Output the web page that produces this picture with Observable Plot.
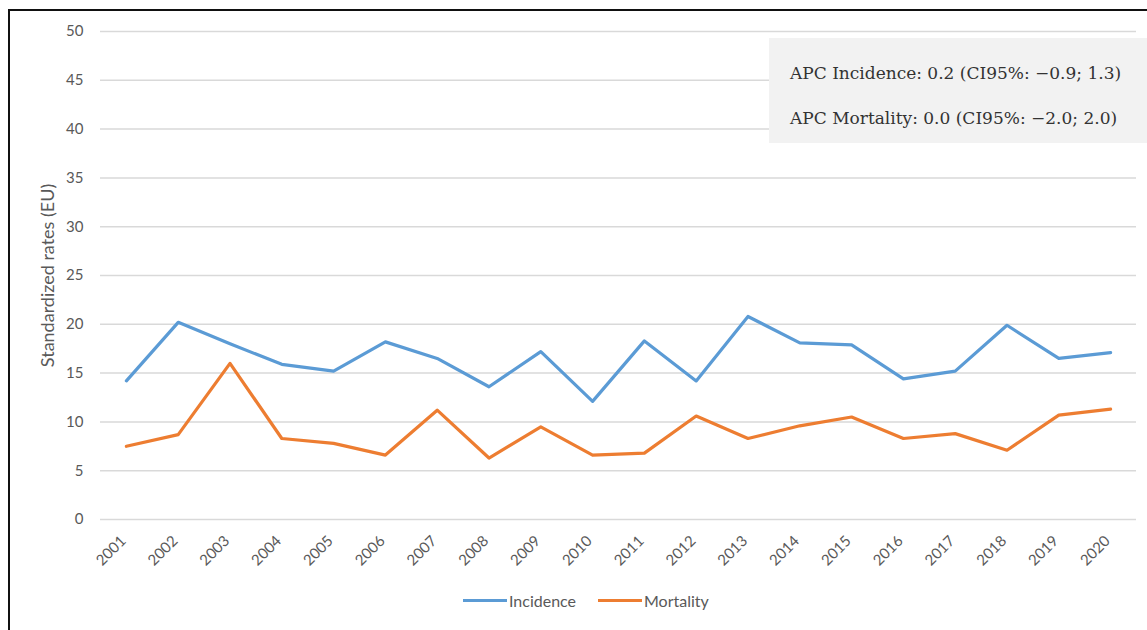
<!DOCTYPE html>
<html>
<head>
<meta charset="utf-8">
<script src="https://cdn.jsdelivr.net/npm/d3@7"></script>
<script src="https://cdn.jsdelivr.net/npm/@observablehq/plot@0.6"></script>
<style>
  html, body { margin: 0; padding: 0; background: #fff; }
  body { width: 1147px; height: 630px; position: relative; overflow: hidden; font-family: Lato, "Open Sans", sans-serif; }
  #frame { position: absolute; left: 8px; top: 9px; width: 1160px; height: 640px; border: 2px solid #111; box-sizing: border-box; pointer-events: none; }
  #chart { position: absolute; left: 0; top: 0; }
  #apc { position: absolute; left: 769px; top: 38px; width: 378px; height: 105px; background: #f2f2f2;
         font-family: "DejaVu Serif", "Liberation Serif", serif; font-size: 17px; color: #333; }
  #apc div { position: absolute; left: 21px; white-space: nowrap; }
  #legend { position: absolute; top: 591px; left: 0; width: 1147px; font-size: 16px; color: #595959; }
  .li { position: absolute; display: flex; align-items: center; }
  .sw { width: 44px; height: 3px; margin-right: 2px; }
</style>
</head>
<body>
<div id="chart"></div>
<div id="apc">
  <div style="top:25px">APC Incidence: 0.2 (CI95%: −0.9; 1.3)</div>
  <div style="top:70px">APC Mortality: 0.0 (CI95%: −2.0; 2.0)</div>
</div>
<div id="legend"></div>
<div id="frame"></div>
<script>
const years = ["2001","2002","2003","2004","2005","2006","2007","2008","2009","2010",
               "2011","2012","2013","2014","2015","2016","2017","2018","2019","2020"];
const incidence = [14.2, 20.2, 18.0, 15.9, 15.2, 18.2, 16.5, 13.6, 17.2, 12.1,
                   18.3, 14.2, 20.8, 18.1, 17.9, 14.4, 15.2, 19.9, 16.5, 17.1];
const mortality = [7.5, 8.7, 16.0, 8.3, 7.8, 6.6, 11.2, 6.3, 9.5, 6.6,
                   6.8, 10.6, 8.3, 9.6, 10.5, 8.3, 8.8, 7.1, 10.7, 11.3];
const seriesNames = ["Incidence", "Mortality"];
const seriesColors = ["#5B9BD5", "#ED7D31"];
const yTicks = [0, 5, 10, 15, 20, 25, 30, 35, 40, 45, 50];
const yLabel = "Standardized rates (EU)";

const rows = [];
years.forEach((y, i) => {
  rows.push({year: y, value: incidence[i], series: seriesNames[0]});
  rows.push({year: y, value: mortality[i], series: seriesNames[1]});
});

const plot = Plot.plot({
  width: 1147,
  height: 630,
  marginLeft: 100,
  marginRight: 11,
  marginTop: 31,
  marginBottom: 111,
  style: {fontFamily: "Lato, 'Open Sans', sans-serif", fontSize: "15px", color: "#595959", background: "transparent"},
  x: {type: "point", domain: years, padding: 0.5, round: false},
  y: {domain: [0, 50]},
  color: {domain: seriesNames, range: seriesColors},
  marks: [
    Plot.gridY(yTicks, {stroke: "#d9d9d9", strokeOpacity: 1, strokeWidth: 1.5}),
    Plot.axisY(yTicks, {tickSize: 0, tickPadding: 17, label: null, fill: "#595959", fontSize: 15}),
    Plot.axisX(years, {tickSize: 0, tickRotate: -45, tickPadding: 19, label: null, fill: "#595959", fontSize: 15, dx: -3}),
    Plot.text([yLabel], {frameAnchor: "left", textAnchor: "middle", dx: -52, rotate: -90, fill: "#595959", fontSize: 18}),
    Plot.line(rows, {x: "year", y: "value", z: "series", stroke: "series", strokeWidth: 3.2, curve: "linear"})
  ]
});
document.getElementById("chart").appendChild(plot);

const legend = document.getElementById("legend");
const legendX = [463, 598];
seriesNames.forEach((name, i) => {
  const item = document.createElement("div");
  item.className = "li";
  item.style.left = legendX[i] + "px";
  const sw = document.createElement("div");
  sw.className = "sw";
  sw.style.background = seriesColors[i];
  const t = document.createElement("span");
  t.textContent = name;
  item.appendChild(sw); item.appendChild(t);
  legend.appendChild(item);
});
</script>
</body>
</html>
